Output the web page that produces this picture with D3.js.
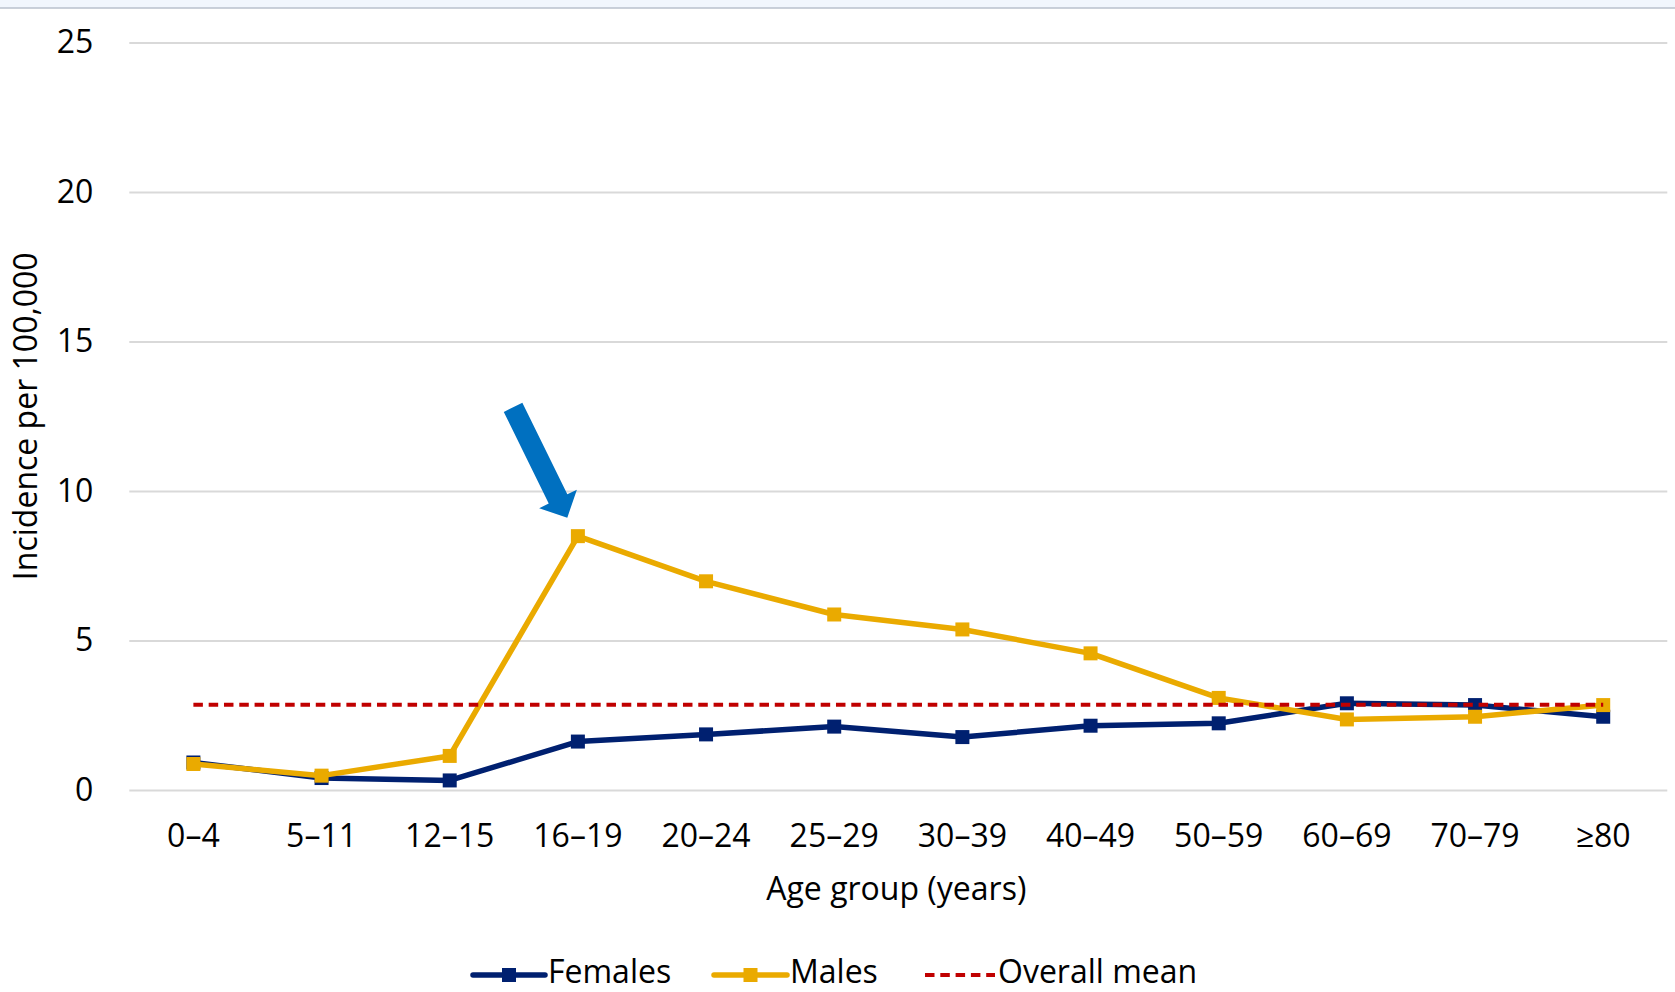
<!DOCTYPE html>
<html>
<head>
<meta charset="utf-8">
<script src="https://cdn.jsdelivr.net/npm/d3@7"></script>
<style>
  html, body { margin: 0; padding: 0; background: #ffffff; }
  svg { display: block; }
  text { font-family: "Open Sans", "Noto Sans", sans-serif; fill: #000; }
</style>
</head>
<body>
<svg id="chart" width="1675" height="992"></svg>
<script>
// Incidence per 100,000 by age group and sex
const ageGroups = ["0–4", "5–11", "12–15", "16–19", "20–24", "25–29", "30–39", "40–49", "50–59", "60–69", "70–79", "≥80"];
const females = [0.92, 0.40, 0.32, 1.62, 1.86, 2.12, 1.77, 2.15, 2.23, 2.90, 2.84, 2.45];
const males   = [0.87, 0.48, 1.14, 8.49, 6.98, 5.87, 5.37, 4.57, 3.08, 2.36, 2.45, 2.84];
const overallMean = 2.85;
const yTicks = [0, 5, 10, 15, 20, 25];
const highlightGroup = "16–19";

const colors = { females: "#002070", males: "#EAAA00", mean: "#C00000", arrow: "#0070C0", grid: "#D9D9D9" };
const FONT = "'Open Sans', 'Noto Sans', sans-serif";
const FS = 32;

const svg = d3.select("#chart");
const W = 1675, H = 992;
const plot = { left: 129.3, right: 1667.3, top: 42.5, bottom: 790 };

// window strip along the top edge
svg.append("rect").attr("x", 0).attr("y", 0).attr("width", W).attr("height", 8).attr("fill", "#F1F6FD");
svg.append("line").attr("x1", 0).attr("x2", W).attr("y1", 8).attr("y2", 8)
  .attr("stroke", "#B8C0CC").attr("stroke-width", 1.5);

const x = d3.scaleBand().domain(ageGroups).range([plot.left, plot.right]).padding(0);
const y = d3.scaleLinear().domain([0, 25]).range([plot.bottom, plot.top]);
const cx = d => x(d) + x.bandwidth() / 2;

// horizontal gridlines and value labels
const yAxis = d3.axisLeft(y).tickValues(yTicks).tickSize(-(plot.right - plot.left)).tickPadding(36).tickFormat(d3.format("d"));
const gy = svg.append("g").attr("transform", `translate(${plot.left},0)`).call(yAxis);
gy.select(".domain").remove();
gy.selectAll(".tick line").attr("stroke", colors.grid).attr("stroke-width", 2);
gy.selectAll(".tick text").attr("font-size", FS).attr("font-family", FONT).attr("fill", "#000");

// category labels
const xAxis = d3.axisBottom(x).tickSize(0).tickPadding(34);
const gx = svg.append("g").attr("transform", `translate(0,${plot.bottom})`).call(xAxis);
gx.select(".domain").remove();
gx.selectAll(".tick text").attr("font-size", FS).attr("font-family", FONT).attr("fill", "#000");

// axis titles
svg.append("text").attr("x", (plot.left + plot.right) / 2 - 2).attr("y", 900)
  .attr("text-anchor", "middle").attr("font-size", FS).text("Age group (years)");
svg.append("text").attr("transform", `translate(37,${(plot.top + plot.bottom) / 2}) rotate(-90)`)
  .attr("text-anchor", "middle").attr("font-size", FS).text("Incidence per 100,000");

// series
const line = d3.line().x((d, i) => cx(ageGroups[i])).y(d => y(d));
const markerSize = 14;

function drawSeries(values, color) {
  const g = svg.append("g");
  g.append("path").datum(values).attr("d", line)
    .attr("fill", "none").attr("stroke", color).attr("stroke-width", 5.5).attr("stroke-linejoin", "round");
  g.selectAll("rect").data(values).join("rect")
    .attr("x", (d, i) => cx(ageGroups[i]) - markerSize / 2)
    .attr("y", d => y(d) - markerSize / 2)
    .attr("width", markerSize).attr("height", markerSize)
    .attr("fill", color);
}
drawSeries(females, colors.females);
drawSeries(males, colors.males);

// overall mean reference line
svg.append("line")
  .attr("x1", cx(ageGroups[0])).attr("x2", cx(ageGroups[ageGroups.length - 1]))
  .attr("y1", y(overallMean)).attr("y2", y(overallMean))
  .attr("stroke", colors.mean).attr("stroke-width", 4).attr("stroke-dasharray", "9.5,5.8");

// arrow pointing at the male peak
(function () {
  const i = ageGroups.indexOf(highlightGroup);
  const tipX = cx(highlightGroup) - 10.6, tipY = y(males[i]) - 18.4;
  const ang = Math.atan2(110.8, 54.4);
  const len = 123, headLen = 21, headW = 42, shaftW = 20.7;
  const ux = Math.cos(ang), uy = Math.sin(ang), px = -uy, py = ux;
  const bx = tipX - ux * headLen, by = tipY - uy * headLen;
  const tx = tipX - ux * len, ty = tipY - uy * len;
  const pts = [
    [tx + px * shaftW / 2, ty + py * shaftW / 2],
    [bx + px * shaftW / 2, by + py * shaftW / 2],
    [bx + px * headW / 2, by + py * headW / 2],
    [tipX, tipY],
    [bx - px * headW / 2, by - py * headW / 2],
    [bx - px * shaftW / 2, by - py * shaftW / 2],
    [tx - px * shaftW / 2, ty - py * shaftW / 2]
  ];
  svg.append("polygon").attr("points", pts.map(p => p.join(",")).join(" ")).attr("fill", colors.arrow);
})();

// legend
const legendY = 975;
const legendItems = [
  { label: "Females", color: colors.females, x1: 473, x2: 545, tx: 548, marker: true },
  { label: "Males", color: colors.males, x1: 714, x2: 787, tx: 790, marker: true },
  { label: "Overall mean", color: colors.mean, x1: 925, x2: 995, tx: 998, marker: false }
];
const lg = svg.append("g");
legendItems.forEach(it => {
  if (it.marker) {
    lg.append("line").attr("x1", it.x1).attr("x2", it.x2).attr("y1", legendY).attr("y2", legendY)
      .attr("stroke", it.color).attr("stroke-width", 5.5).attr("stroke-linecap", "round");
    lg.append("rect").attr("x", (it.x1 + it.x2) / 2 - markerSize / 2).attr("y", legendY - markerSize / 2)
      .attr("width", markerSize).attr("height", markerSize).attr("fill", it.color);
  } else {
    lg.append("line").attr("x1", it.x1).attr("x2", it.x2).attr("y1", legendY).attr("y2", legendY)
      .attr("stroke", it.color).attr("stroke-width", 4).attr("stroke-dasharray", "9.5,5.8");
  }
  lg.append("text").attr("x", it.tx).attr("y", legendY + 8).attr("font-size", FS).text(it.label);
});
</script>
</body>
</html>
